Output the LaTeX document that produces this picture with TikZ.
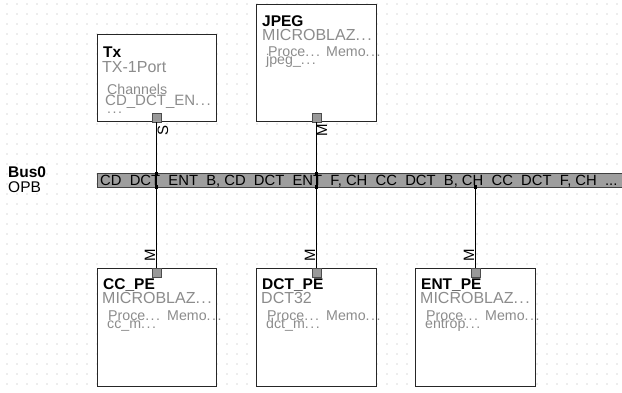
\documentclass[tikz,border=0pt]{standalone}
\usepackage{fontspec}
\setmainfont{Liberation Sans}
\newcommand\mydots{.\kern1.5pt.\kern1.5pt.}
\begin{document}
\begin{tikzpicture}[x=1pt,y=-1pt,
  box/.style={draw=black!85,line width=0.9pt,fill=white,inner sep=0pt,anchor=north west},
  port/.style={draw=black!70,fill=black!40,line width=0.6pt,minimum size=9pt,inner sep=0pt},
  conn/.style={line width=1.4pt,black},
  jn/.style={fill=black,inner sep=0pt,minimum size=3.5pt},
  ttl/.style={anchor=base west,inner sep=0pt,font=\fontsize{15.5}{16}\selectfont\bfseries},
  sub/.style={anchor=base west,inner sep=0pt,text=black!45,font=\fontsize{16}{16}\selectfont},
  sml/.style={anchor=base west,inner sep=0pt,text=black!45,font=\fontsize{14.2}{14}\selectfont},
  lbl/.style={inner sep=0pt,rotate=90,font=\fontsize{15}{15}\selectfont}]
\useasboundingbox (0,0) rectangle (622,392);
\fill[white] (0,0) rectangle (622,392);
\foreach \gx in {7,17,...,617}{\foreach \gy in {4,14,...,384}{\fill[black!30] (\gx,\gy) circle (0.55pt);}}
% boxes
\node[box,minimum width=119pt,minimum height=87pt] (tx) at (97,34) {};
\node[box,minimum width=120pt,minimum height=117pt] (jpeg) at (256,4) {};
\node[box,minimum width=119pt,minimum height=118pt] (cc) at (97,268) {};
\node[box,minimum width=120pt,minimum height=118pt] (dct) at (256,268) {};
\node[box,minimum width=120pt,minimum height=118pt] (ent) at (415,268) {};
% texts Tx
\node[ttl] (txt1) at (103,57) {Tx};
\node[sub] (txt2) at (102,72) {TX-1Port};
\node[sml] (txt3) at (107,94) {Channels};
\node[sub,font=\fontsize{15}{15}\selectfont] (txt4) at (105,105.5) {CD\_DCT\_EN\mydots};
\node[sml] (txt5) at (107,113.5) {\mydots};
% JPEG
\node[ttl] (jt1) at (262,26) {JPEG};
\node[sub] (jt2) at (262,40) {MICROBLAZ\mydots};
\node[sml] (jt3) at (268,56) {Proce\mydots};
\node[sml] (jt4) at (326,56) {Memo\mydots};
\node[sml] (jt5) at (266,64) {jpeg\_\mydots};
% CC_PE
\node[ttl] (ct1) at (103,289.5) {CC\_PE};
\node[sub] (ct2) at (102,303.5) {MICROBLAZ\mydots};
\node[sml] (ct3) at (108,320.5) {Proce\mydots};
\node[sml] (ct4) at (167,320.5) {Memo\mydots};
\node[sml] (ct5) at (107,328.5) {cc\_m\mydots};
% DCT_PE
\node[ttl] (dt1) at (262,289.5) {DCT\_PE};
\node[sub] (dt2) at (261,303.5) {DCT32};
\node[sml] (dt3) at (267,320.5) {Proce\mydots};
\node[sml] (dt4) at (326,320.5) {Memo\mydots};
\node[sml] (dt5) at (266,328.5) {dct\_m\mydots};
% ENT_PE
\node[ttl] (et1) at (421,289.5) {ENT\_PE};
\node[sub] (et2) at (420,303.5) {MICROBLAZ\mydots};
\node[sml] (et3) at (426,320.5) {Proce\mydots};
\node[sml] (et4) at (485,320.5) {Memo\mydots};
\node[sml] (et5) at (425,328.5) {entrop\mydots};
% bus
\node[ttl] (busn) at (8,177) {Bus0};
\node[sub,text=black,font=\fontsize{15.5}{16}\selectfont] (bust) at (8,192) {OPB};
\node[draw=black!75,fill=black!38,line width=0.9pt,anchor=north west,minimum width=540pt,minimum height=14pt,inner sep=0pt] (bus) at (97,173) {};
\begin{scope}
\clip (97.5,173.5) rectangle (622,186.5);
\node[anchor=base west,inner sep=0pt,font=\fontsize{14.8}{15}\selectfont] (bustxt) at (100,185) {CD\_DCT\_ENT\_B, CD\_DCT\_ENT\_F, CH\_CC\_DCT\_B, CH\_CC\_DCT\_F, CH\_...};
\end{scope}
% ports
\node[port] (txp) at (156.5,117.5) {};
\node[port] (jpegp) at (316.5,117.5) {};
\node[port] (ccp) at (156.5,272.5) {};
\node[port] (dctp) at (316.5,272.5) {};
\node[port] (entp) at (475.5,272.5) {};
\coordinate (entb) at (475.5,187);
% connectors
\draw[conn] (txp.south) -- (ccp.north);
\draw[conn] (jpegp.south) -- (dctp.north);
\draw[conn] (entb) -- (entp.north);
% junctions
\node[jn] (j1) at (156.5,173.5) {};
\node[jn] (j2) at (156.5,187) {};
\node[jn] (j3) at (316.5,173.5) {};
\node[jn] (j4) at (316.5,187) {};
\node[jn] (j5) at (475.5,187) {};
% labels
\node[lbl] (l1) at (163,130) {S};
\node[lbl] (l2) at (322,130) {M};
\node[lbl] (l3) at (150,255) {M};
\node[lbl] (l4) at (310,255) {M};
\node[lbl] (l5) at (469,255) {M};
\end{tikzpicture}
\end{document}
